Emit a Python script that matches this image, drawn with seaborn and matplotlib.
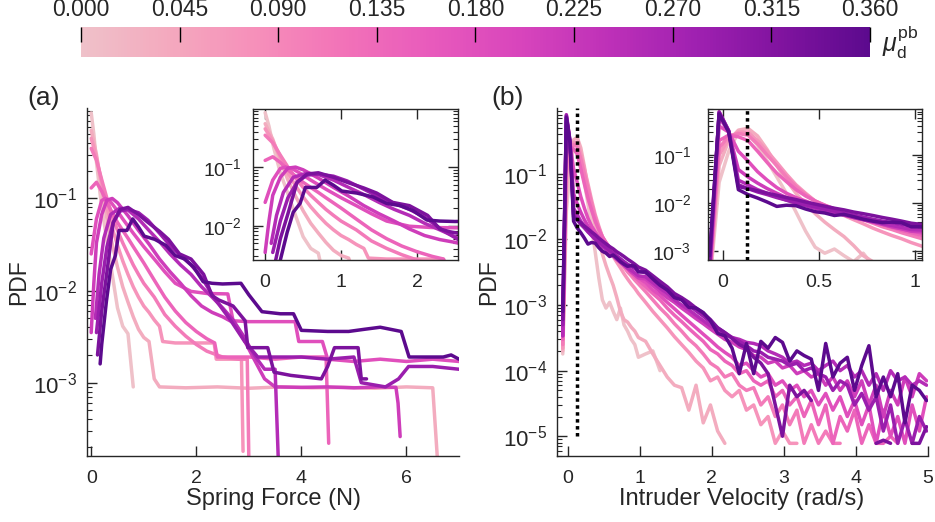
import numpy as np
import matplotlib
matplotlib.use('Agg')
import matplotlib.pyplot as plt
import seaborn as sns
from matplotlib.colors import LinearSegmentedColormap
from matplotlib import ticker

F = 7.8e-6       # one-count floor of the velocity histograms
nan = np.nan

mu_values = [0.0, 0.036, 0.072, 0.108, 0.144, 0.18, 0.216, 0.252, 0.288, 0.324, 0.36]
cbar_ticks = [0.0, 0.045, 0.09, 0.135, 0.18, 0.225, 0.27, 0.315, 0.36]
cmap_colors = ['#EFC1C9', '#F4A9BE', '#F68FBA', '#F272B8', '#E85ABC',
               '#D845BC', '#BE31B8', '#A021B1', '#80139F', '#5C0A8E']

# (a) spring force PDFs, one list per friction value
force_x = [
    [0, 0.05, 0.1, 0.15, 0.2, 0.3, 0.4, 0.5, 0.6, 0.7, 0.8],
    [0, 0.1, 0.2, 0.3, 0.4, 0.5, 0.6, 0.7, 0.8, 0.9, 1.0, 1.1, 1.2, 1.3, 1.8, 2.4, 3.0, 3.6, 4.2, 4.8, 5.4, 6.0, 6.5, 6.6],
    [0, 0.1, 0.2, 0.3, 0.4, 0.5, 0.6, 0.7, 0.8, 0.9, 1.0, 1.1, 1.2, 1.3, 1.36, 1.6, 2.0, 2.34, 2.38, 2.6, 2.86, 2.89],
    [0, 0.1, 0.2, 0.3, 0.4, 0.5, 0.6, 0.7, 0.8, 0.9, 1.0, 1.2, 1.4, 1.6, 1.8, 2.0, 2.2, 2.5, 2.8, 2.97, 3.0],
    [0, 0.1, 0.2, 0.3, 0.4, 0.5, 0.6, 0.7, 0.8, 1.0, 1.2, 1.4, 1.6, 1.8, 2.0, 2.2, 2.35, 2.4, 3.0, 3.5, 4.0, 4.47, 4.52],
    [0, 0.1, 0.2, 0.27, 0.35, 0.45, 0.6, 0.8, 1.0, 1.2, 1.4, 1.6, 1.9, 2.2, 2.6, 2.7, 3.0, 3.5, 3.88, 3.95, 4.4, 4.5, 5.0, 5.5, 6.0, 6.5, 7.0],
    [0, 0.05, 0.1, 0.2, 0.3, 0.4, 0.5, 0.7, 0.9, 1.1, 1.3, 1.5, 1.7, 1.9, 2.1, 2.3, 2.5, 2.7, 2.9, 3.1, 3.3, 3.5, 4.0, 4.5, 5.0, 5.5, 5.8, 5.84, 5.88],
    [0.08, 0.15, 0.24, 0.37, 0.55, 0.7, 0.9, 1.1, 1.3, 1.5, 1.7, 1.9, 2.1, 2.3, 2.5, 2.7, 2.9, 3.1, 3.3, 3.5, 3.56],
    [0.1, 0.2, 0.3, 0.42, 0.55, 0.7, 0.9, 1.08, 1.3, 1.5, 1.7, 1.9, 2.1, 2.33, 2.66, 2.92, 3.17, 3.5, 4.0, 4.5, 5.0, 5.14, 5.6, 5.85, 6.04, 6.5, 7.0],
    [0.12, 0.2, 0.3, 0.42, 0.55, 0.7, 0.9, 1.08, 1.3, 1.47, 1.68, 1.9, 2.14, 2.3, 2.43, 2.7, 2.93, 2.98, 3.36, 3.48, 3.8, 4.38, 4.5, 4.63, 5.08, 5.14, 5.24],
    [0.17, 0.2, 0.29, 0.37, 0.46, 0.53, 0.68, 0.79, 0.9, 1.01, 1.21, 1.42, 1.6, 1.78, 1.95, 2.13, 2.3, 2.5, 2.85, 3.0, 3.25, 3.6, 3.85, 4.0, 4.5, 4.9, 5.2, 5.5, 5.9, 6.05, 6.4, 6.7, 6.85, 7.0],
]
force_pdf = [
    [0.85, 0.5, 0.25, 0.14, 0.08, 0.035, 0.015, 0.0065, 0.0041, 0.0034, 0.0009],
    [0.55, 0.3, 0.13, 0.06, 0.032, 0.018, 0.011, 0.0075, 0.0052, 0.0038, 0.0031, 0.0028, 0.0011, 0.0009, 0.00088, 0.0009, 0.00087, 0.0009, 0.00088, 0.00089, 0.00087, 0.0009, 0.00088, 0.00012],
    [0.45, 0.28, 0.15, 0.08, 0.048, 0.031, 0.021, 0.015, 0.011, 0.0085, 0.0068, 0.0058, 0.0048, 0.0041, 0.0028, 0.0027, 0.0027, 0.0027, 0.0018, 0.0018, 0.0018, 0.00018],
    [0.35, 0.26, 0.16, 0.1, 0.065, 0.045, 0.033, 0.025, 0.019, 0.015, 0.012, 0.0085, 0.0055, 0.0041, 0.0032, 0.0026, 0.0022, 0.0019, 0.0018, 0.0018, 0.00015],
    [0.13, 0.15, 0.12, 0.09, 0.07, 0.055, 0.045, 0.037, 0.03, 0.02, 0.013, 0.0085, 0.006, 0.0045, 0.0036, 0.003, 0.0027, 0.0019, 0.0019, 0.0018, 0.0019, 0.0019, 0.00022],
    [0.025, 0.06, 0.095, 0.1, 0.095, 0.08, 0.06, 0.042, 0.03, 0.022, 0.016, 0.012, 0.0098, 0.0093, 0.0092, 0.0047, 0.0046, 0.0046, 0.0046, 0.0028, 0.0028, 0.0018, 0.0017, 0.0018, 0.0017, 0.0018, 0.0017],
    [0.0035, 0.012, 0.033, 0.067, 0.096, 0.1, 0.09, 0.065, 0.045, 0.032, 0.022, 0.016, 0.012, 0.0088, 0.0068, 0.0058, 0.0052, 0.0045, 0.003, 0.0018, 0.0011, 0.0009, 0.00089, 0.0009, 0.00088, 0.0009, 0.00089, 0.0006, 0.00026],
    [0.005, 0.015, 0.037, 0.067, 0.079, 0.075, 0.06, 0.045, 0.034, 0.025, 0.019, 0.015, 0.011, 0.0085, 0.0065, 0.0048, 0.0032, 0.002, 0.0014, 0.0014, 0.00015],
    [0.0035, 0.012, 0.03, 0.055, 0.073, 0.076, 0.07, 0.058, 0.042, 0.031, 0.024, 0.019, 0.014, 0.0085, 0.0047, 0.0028, 0.0019, 0.0019, 0.0019, 0.0018, 0.0019, 0.001, 0.0009, 0.0011, 0.0015, 0.0015, 0.0014],
    [0.002, 0.006, 0.016, 0.055, 0.076, 0.08, 0.067, 0.055, 0.044, 0.036, 0.025, 0.022, 0.015, 0.0088, 0.0079, 0.0068, 0.0047, 0.0024, 0.0024, 0.0013, 0.0012, 0.0011, 0.0015, 0.0024, 0.0024, 0.0011, 0.0011],
    [0.0016, 0.0026, 0.0077, 0.017, 0.024, 0.045, 0.045, 0.06, 0.049, 0.039, 0.036, 0.031, 0.024, 0.022, 0.018, 0.0125, 0.012, 0.0118, 0.012, 0.009, 0.0059, 0.0056, 0.0056, 0.0037, 0.0036, 0.0036, 0.0038, 0.004, 0.0036, 0.0019, 0.0019, 0.0019, 0.002, 0.0018],
]

# (b) intruder velocity PDFs on shared bin centres
vel_bins = [-0.07, -0.02, 0.03, 0.08, 0.13, 0.18, 0.23, 0.28, 0.33, 0.38, 0.43, 0.48, 0.53, 0.58, 0.63, 0.68,
            0.73, 0.78, 0.83, 0.88, 0.93, 0.98, 1.08, 1.18, 1.28, 1.38, 1.48, 1.58, 1.68, 1.78, 1.88, 1.98,
            2.08, 2.18, 2.28, 2.38, 2.48, 2.58, 2.68, 2.78, 2.88, 2.98, 3.08, 3.18, 3.28, 3.38, 3.48, 3.58,
            3.68, 3.78, 3.88, 3.98, 4.08, 4.18, 4.28, 4.38, 4.48, 4.58, 4.68, 4.78, 4.88, 4.98]
vel_pdf = [
    [1.8e-4, 0.027, 0.12, 0.30, 0.28, 0.16, 0.075, 0.035, 0.016, 0.0065, 0.0026, 0.0012, 0.0009, 0.0011, 0.0008, 0.0006, 0.0009, 0.0005, 0.0004, 0.0003, 0.00025, 0.00016,
     0.00018, 0.0002, 0.0001],
    [2.0e-4, 0.06, 0.2, 0.33, 0.36, 0.25, 0.13, 0.06, 0.03, 0.016, 0.0095, 0.006, 0.004, 0.0028, 0.002, 0.0013, 0.0008, 0.0006, 0.00055, 0.00046, 0.0004, 0.00032,
     0.00028, 0.00018, 0.00012, 0.00008, 0.00006, 0.000055, 0.000025, 0.00006, 0.000016, 0.00003, 0.000012, F],
    [2.2e-4, 0.1, 0.22, 0.3, 0.3, 0.2, 0.12, 0.07, 0.04, 0.024, 0.016, 0.011, 0.0085, 0.0068, 0.0055, 0.0045, 0.0037, 0.003, 0.0025, 0.0021, 0.0018, 0.0015,
     0.0011, 0.0008, 0.0006, 0.00045, 0.00033, 0.00025, 0.00019, 0.00014, 0.00011, 0.00007, 0.00008, 0.00005, 0.00004, 0.00005, 0.000025, 0.00003, 0.000015, 0.00002,
     F, 0.000012, F, F],
    [2.5e-4, 0.14, 0.25, 0.28, 0.26, 0.17, 0.1, 0.06, 0.035, 0.022, 0.015, 0.011, 0.009, 0.0074, 0.0062, 0.0052, 0.0045, 0.0038, 0.0032, 0.0028, 0.0024, 0.0021,
     0.0016, 0.0012, 0.0009, 0.0007, 0.00052, 0.0004, 0.0003, 0.00024, 0.00018, 0.00013, 0.00011, 0.00008, 0.00009, 0.00006, 0.00005, 0.000055, 0.00003, 0.00004,
     0.00002, 0.00003, 0.000015, 0.000025, F, 0.000015, F, 0.000012, F, F],
    [3.0e-4, 0.2, 0.26, 0.24, 0.2, 0.12, 0.07, 0.042, 0.028, 0.019, 0.014, 0.011, 0.009, 0.0076, 0.0065, 0.0056, 0.0048, 0.0042, 0.0036, 0.0031, 0.0027, 0.0024,
     0.0019, 0.0015, 0.0012, 0.0009, 0.0007, 0.00056, 0.00044, 0.00035, 0.00028, 0.00021, 0.00018, 0.00014, 0.00012, 0.00009, 0.0001, 0.00007, 0.00006, 0.00007,
     0.00004, 0.00005, 0.00003, 0.00004, 0.00002, 0.000035, 0.000015, 0.00003, F, 0.00002, 0.000012, 0.000025, F, 0.000015, F, F, 0.00001, F],
    [3.4e-4, 0.4, 0.3, 0.12, 0.075, 0.045, 0.03, 0.021, 0.016, 0.013, 0.011, 0.0092, 0.0079, 0.0069, 0.006, 0.0053, 0.0046, 0.0041, 0.0036, 0.0032, 0.0029, 0.0026,
     0.0022, 0.0017, 0.0014, 0.0011, 0.00088, 0.0007, 0.00056, 0.00045, 0.00036, 0.00029, 0.00023, 0.00019, 0.00016, 0.00012, 0.00013, 0.0001, 0.00008, 0.00009,
     0.00006, 0.00007, 0.00005, 0.00006, 0.00004, 0.00005, 0.00003, 0.000045, 0.000025, 0.00004, 0.00002, 0.000035, 0.000015, 0.00003, F, 0.000025, 0.00001, 0.00002,
     F, 0.00003, 0.000012, 0.00004],
    [3.4e-4, 0.62, 0.3, 0.05, 0.035, 0.026, 0.02, 0.016, 0.013, 0.011, 0.0095, 0.0083, 0.0073, 0.0064, 0.0057, 0.005, 0.0045, 0.004, 0.0036, 0.0032, 0.0029, 0.0026,
     0.0025, 0.002, 0.0016, 0.0013, 0.0011, 0.0009, 0.00075, 0.00062, 0.00052, 0.00043, 0.00036, 0.0003, 0.00027, 0.00023, 0.00021, 0.00017, 0.00016, 0.00013,
     0.00014, 0.00011, 0.00012, 0.00009, 0.0001, 0.00008, 0.00009, 0.00006, 0.00008, 0.00005, 0.00007, 0.00004, 0.00007, 0.00003, 0.00006, 0.00002, 0.00005, 0.00003,
     0.00008, 0.00004, 0.00009, 0.00007],
    [3.4e-4, 0.8, 0.32, 0.03, 0.024, 0.019, 0.016, 0.0135, 0.0115, 0.01, 0.0088, 0.0078, 0.007, 0.0062, 0.0056, 0.005, 0.0045, 0.0041, 0.0037, 0.0034, 0.0031, 0.0028,
     0.0027, 0.0022, 0.0018, 0.0015, 0.0012, 0.001, 0.00085, 0.0007, 0.00058, 0.00048, 0.00042, 0.00036, 0.00032, 0.0003, 0.00027, 0.00026, 0.00024, 0.0002,
     0.00018, 0.00016, 0.00013, 0.00014, 0.00012, 0.00013, 0.0001, 0.00012, 0.00014, 0.0001, 0.00012, 0.00008, 0.0001, 0.00006, 0.00009, 0.00005, 0.0001, 0.00007,
     0.00008, 0.00006, 0.00007, 0.00006],
    [5e-4, 0.78, 0.32, 0.024, 0.02, 0.017, 0.015, 0.013, 0.0115, 0.0102, 0.0092, 0.0083, 0.0075, 0.0068, 0.0062, 0.0056, 0.0051, 0.0046, 0.0042, 0.0039, 0.0036, 0.0033,
     0.0031, 0.0026, 0.0021, 0.0017, 0.0014, 0.0012, 0.001, 0.00082, 0.00068, 0.00055, 0.00045, 0.00038, 0.00032, 0.00028, 0.00024, 0.0002, 0.00019, 0.00016,
     0.00015, 0.00014, 0.00012, 0.00013, 0.0001, 0.00011, 0.00009, 0.00008, 0.00005, 0.00007, 0.00006, 0.00003, 0.000045, 0.000025, 0.00004, 0.000012, 0.00003, F,
     0.000018, F, 0.00002, 0.000012],
    [6e-4, 0.75, 0.31, 0.022, 0.02, 0.018, 0.016, 0.0145, 0.013, 0.0118, 0.0105, 0.0095, 0.0086, 0.0078, 0.0072, 0.0065, 0.006, 0.0055, 0.005, 0.0046, 0.0042, 0.0038,
     0.0034, 0.0028, 0.0023, 0.0019, 0.0015, 0.0013, 0.0011, 0.0009, 0.00075, 0.0006, 0.00045, 0.00038, 0.00031, 0.00025, 0.00022, 0.00016, 0.00013, 0.00009,
     0.00003, 0.00001, 0.00006, 0.00004, 0.00005, 0.000035, nan, nan, nan, nan, nan, nan, nan, nan, F, 0.0000087, F, nan, nan, F, F, 0.000014],
    [8e-4, 0.72, 0.3, 0.019, 0.015, 0.0127, 0.0105, 0.0085, 0.009, 0.0088, 0.0075, 0.0066, 0.0062, 0.0055, 0.0058, 0.0052, 0.0046, 0.0042, 0.0039, 0.004, 0.0039, 0.0032,
     0.0032, 0.0025, 0.002, 0.0017, 0.0013, 0.0012, 0.00092, 0.0009, 0.00077, 0.00058, 0.00037, 0.00034, 0.00022, 0.00009, 0.00026, 0.00009, 0.00028, 0.00022,
     0.00032, 0.00027, 0.00014, 0.0002, 0.00017, 0.00015, 0.00005, 0.00026, 0.00008, 0.00013, 0.00016, 0.00005, 0.00012, 0.00024, 0.00004, 0.00008, 0.00004, 0.00009,
     0.000016, 0.00006, 0.00005, 0.000035],
]
vel_threshold = 0.125

sns.set_style('ticks')
plt.rcParams['font.family'] = ['Liberation Sans', 'DejaVu Sans']
plt.rcParams['mathtext.fontset'] = 'custom'
plt.rcParams['mathtext.rm'] = 'Liberation Sans'
plt.rcParams['mathtext.it'] = 'Liberation Sans:italic'
plt.rcParams['axes.edgecolor'] = '#262626'
plt.rcParams['xtick.color'] = '#262626'
plt.rcParams['ytick.color'] = '#262626'

cmap = LinearSegmentedColormap.from_list('pinkpurple', cmap_colors)
mu_max = cbar_ticks[-1]


def draw_curve(ax, x, y, color):
    x = np.asarray(x, float)
    y = np.asarray(y, float)
    x = x[:len(y)]
    idx = np.flatnonzero(~np.isnan(y))
    for run in np.split(idx, np.flatnonzero(np.diff(idx) > 1) + 1):
        if len(run) < 2:
            continue
        sns.lineplot(x=x[run], y=y[run], color=color, lw=2.5, ax=ax,
                     estimator=None, sort=False, legend=False)


def style_axis(ax, full_box, ysize, ypad):
    ax.set_yscale('log')
    ax.yaxis.set_minor_locator(ticker.LogLocator(base=10, subs=np.arange(2, 10), numticks=12))
    ax.yaxis.set_minor_formatter(ticker.NullFormatter())
    ax.tick_params(axis='both', which='major', direction='in', length=7, width=1,
                   labelsize=14, top=full_box, right=full_box)
    ax.tick_params(axis='y', which='minor', direction='in', length=3.5, width=0.8, right=full_box)
    ax.tick_params(axis='y', which='major', pad=ypad, labelsize=ysize)
    ax.tick_params(axis='x', which='major', pad=10)
    for s in ax.spines.values():
        s.set_linewidth(1.0)
    if not full_box:
        ax.spines['top'].set_visible(False)
        ax.spines['right'].set_visible(False)
    ax.set_xlabel('')
    ax.set_ylabel('')


fig = plt.figure(figsize=(9.35, 5.22), dpi=100)
W, H = 935, 522

ax_a = fig.add_axes([87 / W, 1 - 456 / H, 372 / W, 348 / H])
ax_b = fig.add_axes([557 / W, 1 - 456 / H, 371 / W, 348 / H])
ins_a = fig.add_axes([253 / W, 1 - 260 / H, 205 / W, 151 / H])
ins_b = fig.add_axes([708 / W, 1 - 260 / H, 214 / W, 151 / H])
cax = fig.add_axes([81 / W, 1 - 57 / H, 789 / W, 30 / H])

for k, mu in enumerate(mu_values):
    col = cmap(mu / mu_max)
    draw_curve(ax_a, force_x[k], force_pdf[k], col)
    draw_curve(ins_a, force_x[k], force_pdf[k], col)
    draw_curve(ax_b, vel_bins, vel_pdf[k], col)
    draw_curve(ins_b, vel_bins, vel_pdf[k], col)

# panel (a)
style_axis(ax_a, False, 16, 7)
ax_a.set_xlim(-0.08, 7.0)
ax_a.set_ylim(1.6e-4, 0.96)
ax_a.set_xticks([0, 2, 4, 6])
ax_a.yaxis.set_major_locator(ticker.FixedLocator([1e-3, 1e-2, 1e-1]))

style_axis(ins_a, True, 14, 8)
ins_a.set_facecolor('white')
ins_a.set_xlim(-0.16, 2.54)
ins_a.set_ylim(2.6e-3, 0.98)
ins_a.set_xticks([0, 1, 2])
ins_a.yaxis.set_major_locator(ticker.FixedLocator([1e-2, 1e-1]))

# panel (b)
style_axis(ax_b, False, 16, 7)
ax_b.set_xlim(-0.15, 5.0)
ax_b.set_ylim(5e-6, 1.01)
ax_b.set_xticks([0, 1, 2, 3, 4, 5])
ax_b.yaxis.set_major_locator(ticker.FixedLocator([1e-5, 1e-4, 1e-3, 1e-2, 1e-1]))
ax_b.vlines(vel_threshold, 1e-5, 1.01, colors='black', linestyles=(0, (1, 1)), lw=2.5, zorder=5)

style_axis(ins_b, True, 14, 12)
ins_b.set_facecolor('white')
ins_b.set_xlim(-0.078, 1.036)
ins_b.set_ylim(6.5e-4, 0.91)
ins_b.set_xticks([0, 0.5, 1])
ins_b.set_xticklabels(['0', '0.5', '1'])
ins_b.yaxis.set_major_locator(ticker.FixedLocator([1e-3, 1e-2, 1e-1]))
ins_b.vlines(vel_threshold, 6.5e-4, 0.91, colors='black', linestyles=(0, (1, 1)), lw=2.5, zorder=5)

for ax in (ax_a, ax_b, ins_a, ins_b):
    ax.yaxis.set_major_formatter(ticker.LogFormatterMathtext())

# colorbar
sm = matplotlib.cm.ScalarMappable(cmap=cmap, norm=plt.Normalize(0, mu_max))
cb = fig.colorbar(sm, cax=cax, orientation='horizontal', ticklocation='top', ticks=cbar_ticks)
cb.outline.set_visible(False)
cax.set_axisbelow(False)
cb.ax.xaxis.set_major_formatter(ticker.FormatStrFormatter('%.3f'))
cb.ax.tick_params(which='major', direction='in', length=11, width=1, color='black',
                  top=True, bottom=False, labeltop=True, labelbottom=False, pad=4,
                  labelsize=16.5, labelcolor='#262626')
cb.ax.tick_params(which='minor', length=0)

fig.text(882 / W, 1 - 42 / H, r'$\mu_{\mathrm{d}}^{\mathrm{pb}}$', fontsize=18, ha='left', va='center')

# labels
fig.text(273 / W, 1 - 499 / H, 'Spring Force (N)', fontsize=17, ha='center', va='center')
fig.text(742 / W, 1 - 499 / H, 'Intruder Velocity (rad/s)', fontsize=17, ha='center', va='center')
fig.text(19 / W, 1 - 282 / H, 'PDF', fontsize=16.5, ha='center', va='center', rotation=90)
fig.text(489 / W, 1 - 282 / H, 'PDF', fontsize=16.5, ha='center', va='center', rotation=90)
fig.text(44 / W, 1 - 98 / H, '(a)', fontsize=19, ha='center', va='center')
fig.text(508 / W, 1 - 98 / H, '(b)', fontsize=19, ha='center', va='center')

fig.savefig('out.png', dpi=100)
